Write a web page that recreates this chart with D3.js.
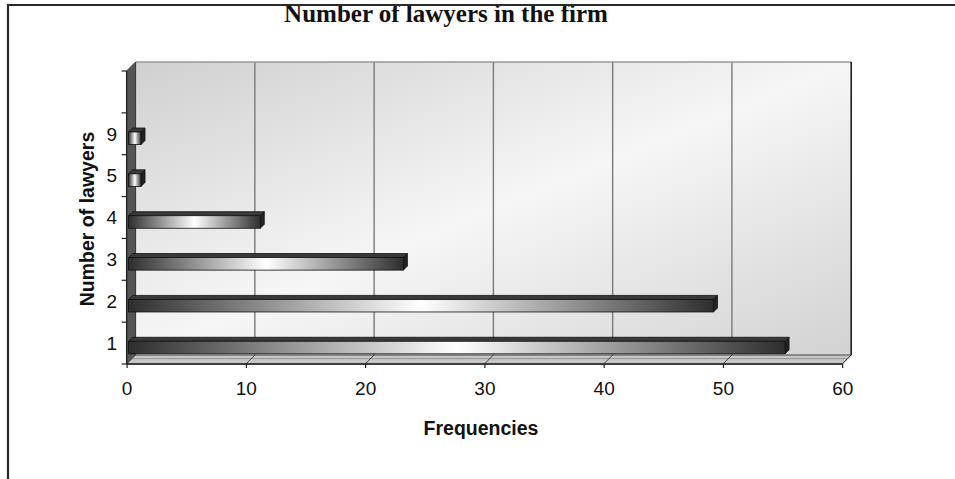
<!DOCTYPE html>
<html>
<head>
<meta charset="utf-8">
<script src="https://cdn.jsdelivr.net/npm/d3@7"></script>
<style>
  html, body { margin: 0; padding: 0; background: #fff; }
  svg { display: block; }
</style>
</head>
<body>
<svg id="chart" width="955" height="479"></svg>
<script>
// Number of lawyers per firm (category) and how often each occurs
const categories = ["1", "2", "3", "4", "5", "9"];
const frequencies = [55, 49, 23, 11, 1, 1];
const xTicks = [0, 10, 20, 30, 40, 50, 60];

const svg = d3.select("#chart");
const W = 955, H = 479;

// 3D depth of the plot box (back wall is shifted up-right by this much)
const D = 9;

const x = d3.scaleLinear().domain([0, 60]).range([126.6, 842.2]);
// one spare empty slot above the highest category
const yDomain = [""].concat(categories.slice().reverse());
const y = d3.scaleBand().domain(yDomain).range([71, 364]).paddingInner(0).paddingOuter(0);

const defs = svg.append("defs");

const wallGrad = defs.append("linearGradient")
  .attr("id", "wallGrad").attr("x1", 0).attr("y1", 0).attr("x2", 1).attr("y2", 1);
wallGrad.append("stop").attr("offset", 0).attr("stop-color", "#d0d0d0");
wallGrad.append("stop").attr("offset", 0.5).attr("stop-color", "#f6f6f6");
wallGrad.append("stop").attr("offset", 1).attr("stop-color", "#d2d2d2");

const barGrad = defs.append("linearGradient")
  .attr("id", "barGrad").attr("x1", 0).attr("y1", 0).attr("x2", 1).attr("y2", 0);
barGrad.append("stop").attr("offset", 0).attr("stop-color", "#2e2e2e");
barGrad.append("stop").attr("offset", 0.5).attr("stop-color", "#ffffff");
barGrad.append("stop").attr("offset", 1).attr("stop-color", "#2e2e2e");

const x0 = x(0), x60 = x(60), yTop = y.range()[0], yBot = y.range()[1];

// back wall
svg.append("rect")
  .attr("x", x0 + D).attr("y", yTop - D)
  .attr("width", x60 - x0).attr("height", yBot - yTop)
  .attr("fill", "url(#wallGrad)");

// vertical gridlines on back wall
svg.append("g").selectAll("line")
  .data(xTicks.filter(t => t > 0 && t < 60))
  .join("line")
  .attr("x1", d => x(d) + D).attr("x2", d => x(d) + D)
  .attr("y1", yTop - D).attr("y2", yBot - D)
  .attr("stroke", "#7a7a7a").attr("stroke-width", 1.4);

// top edge and right edge of back wall
svg.append("line")
  .attr("x1", x0 + D).attr("x2", x60 + D).attr("y1", yTop - D).attr("y2", yTop - D)
  .attr("stroke", "#999").attr("stroke-width", 1.5);
svg.append("line")
  .attr("x1", x60 + D).attr("x2", x60 + D).attr("y1", yTop - D).attr("y2", yBot - D)
  .attr("stroke", "#111").attr("stroke-width", 1.5);

// left side wall
svg.append("path")
  .attr("d", `M${x0},${yTop} L${x0 + D},${yTop - D} L${x0 + D},${yBot - D} L${x0},${yBot} Z`)
  .attr("fill", "#555").attr("stroke", "#333").attr("stroke-width", 1);

// floor
svg.append("path")
  .attr("d", `M${x0},${yBot} L${x0 + D},${yBot - D} L${x60 + D},${yBot - D} L${x60},${yBot} Z`)
  .attr("fill", "#c6c6c6").attr("stroke", "#444").attr("stroke-width", 1);
svg.append("line")
  .attr("x1", x0 + D * 0.6).attr("x2", x60 + D * 0.6)
  .attr("y1", yBot - D * 0.6).attr("y2", yBot - D * 0.6)
  .attr("stroke", "#8a8a8a").attr("stroke-width", 0.8);

// floor gridlines running toward the front axis
svg.append("g").selectAll("line")
  .data(xTicks.filter(t => t > 0))
  .join("line")
  .attr("x1", d => x(d) + D).attr("y1", yBot - D)
  .attr("x2", d => x(d)).attr("y2", yBot)
  .attr("stroke", "#444").attr("stroke-width", 1);

// front x axis line
svg.append("line")
  .attr("x1", x0).attr("x2", x60).attr("y1", yBot).attr("y2", yBot)
  .attr("stroke", "#222").attr("stroke-width", 1.3);

// x axis ticks and labels
const xAxis = d3.axisBottom(x).tickValues(xTicks).tickSize(4).tickPadding(14).tickFormat(d3.format("d"));
const gx = svg.append("g").attr("transform", `translate(0,${yBot})`).call(xAxis);
gx.select(".domain").remove();
gx.selectAll(".tick line").attr("stroke", "#222").attr("stroke-width", 1.2);
gx.selectAll(".tick text")
  .attr("font-family", "'Liberation Sans', Arial, sans-serif")
  .attr("font-size", 19).attr("fill", "#111");

// y axis line and ticks at band boundaries
svg.append("line")
  .attr("x1", x0).attr("x2", x0).attr("y1", yTop).attr("y2", yBot)
  .attr("stroke", "#222").attr("stroke-width", 1.3);
const bounds = yDomain.map(c => y(c)).concat([yBot]);
svg.append("g").selectAll("line")
  .data(bounds)
  .join("line")
  .attr("x1", x0 - 5).attr("x2", x0).attr("y1", d => d).attr("y2", d => d)
  .attr("stroke", "#222").attr("stroke-width", 1.2);

// y category labels
svg.append("g").selectAll("text")
  .data(categories)
  .join("text")
  .attr("x", 117)
  .attr("y", d => y(d) + y.bandwidth() / 2 + 6.8)
  .attr("text-anchor", "end")
  .attr("font-family", "'Liberation Sans', Arial, sans-serif")
  .attr("font-size", 19).attr("fill", "#111")
  .text(d => d);

// 3D bars: front face, top face, right end face
const bh = y.bandwidth() * 0.3;
const bd = 4;   // bar depth
const bars = svg.append("g").selectAll("g")
  .data(categories.map((c, i) => ({ c, v: frequencies[i] })))
  .join("g");

bars.each(function (d) {
  const g = d3.select(this);
  const yc = y(d.c) + y.bandwidth() / 2;
  const top = yc - 1.8;
  const left = x(0) + 2;
  const right = x(d.v) + 2.5;
  // top face
  g.append("path")
    .attr("d", `M${left},${top} L${left + bd},${top - bd} L${right + bd},${top - bd} L${right},${top} Z`)
    .attr("fill", "#3a3a3a").attr("stroke", "#111").attr("stroke-width", 0.8);
  // right end
  g.append("path")
    .attr("d", `M${right},${top} L${right + bd},${top - bd} L${right + bd},${top + bh - bd} L${right},${top + bh} Z`)
    .attr("fill", "#222").attr("stroke", "#111").attr("stroke-width", 0.8);
  // front face
  g.append("rect")
    .attr("x", left).attr("y", top)
    .attr("width", right - left).attr("height", bh)
    .attr("fill", "url(#barGrad)").attr("stroke", "#111").attr("stroke-width", 0.8);
});

// axis titles
svg.append("text")
  .attr("x", 481).attr("y", 435)
  .attr("text-anchor", "middle")
  .attr("font-family", "'Liberation Sans', Arial, sans-serif")
  .attr("font-size", 19.5).attr("font-weight", "bold").attr("fill", "#111")
  .text("Frequencies");

svg.append("text")
  .attr("transform", "translate(94,219) rotate(-90)")
  .attr("text-anchor", "middle")
  .attr("font-family", "'Liberation Sans', Arial, sans-serif")
  .attr("font-size", 19.5).attr("font-weight", "bold").attr("fill", "#111")
  .text("Number of lawyers");

// chart title
svg.append("text")
  .attr("x", 446).attr("y", 22)
  .attr("text-anchor", "middle")
  .attr("font-family", "'Liberation Serif', 'Times New Roman', serif")
  .attr("font-size", 25).attr("font-weight", "bold").attr("fill", "#111")
  .text("Number of lawyers in the firm");

// outer frame (top and left edges)
svg.append("path")
  .attr("d", `M8,${H} L8,5 L${W},5`)
  .attr("fill", "none").attr("stroke", "#2a2a2a").attr("stroke-width", 2.2);
</script>
</body>
</html>
